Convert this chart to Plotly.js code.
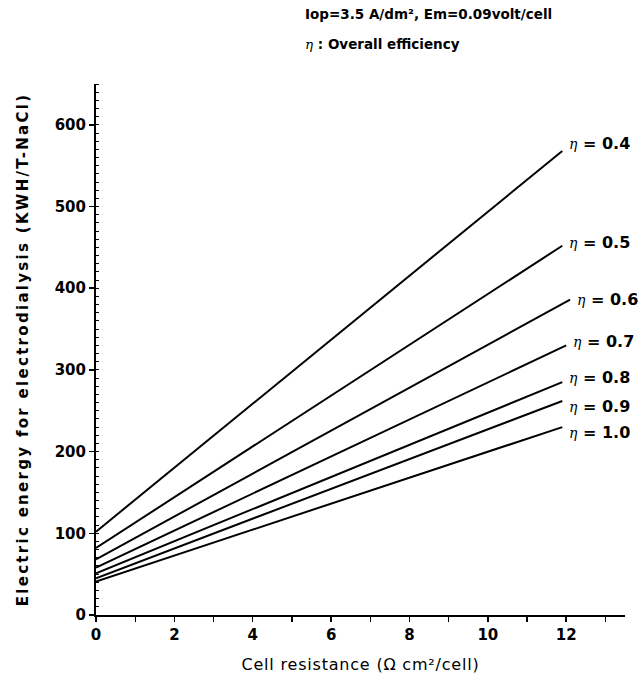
<!DOCTYPE html>
<html>
<head>
<meta charset="utf-8">
<script src="https://cdn.plot.ly/plotly-3.0.1.min.js"></script>
<style>
  html, body { margin: 0; padding: 0; background: #fff; }
  #chart { width: 639px; height: 696px; }
  /* the vertical axis title is set with generous tracking */
  #chart .ytitle { letter-spacing: 2.3px; }
  #chart .xtitle { letter-spacing: 0.8px; }
</style>
</head>
<body>
<div id="chart"></div>
<script>
// Overall efficiency of each line
const efficiency = [0.4, 0.5, 0.6, 0.7, 0.8, 0.9, 1.0];
// Cell resistance (ohm cm2/cell) at both ends of every line
const resistanceStart = [0, 0, 0, 0, 0, 0, 0];
const resistanceEnd = [11.9, 11.9, 12.1, 12.0, 11.9, 11.9, 11.9];
// Electric energy (KWH/T-NaCl) at both ends of every line
const energyStart = [102, 82, 68, 58, 51, 45, 41];
const energyEnd = [568, 452, 386, 330, 285, 262, 230];
// Axis tick labels
const xTicks = [0, 2, 4, 6, 8, 10, 12];
const yTicks = [0, 100, 200, 300, 400, 500, 600];

// Vertical nudges (px) for the efficiency labels where the lines crowd together
const labelShift = [7, 3, 0, 4, 5, -6, -5];

const tickFont = { family: 'DejaVu Sans', size: 15, color: '#000', weight: 'bold' };

const traces = efficiency.map((eta, i) => ({
  type: 'scatter',
  mode: 'lines',
  x: [resistanceStart[i], resistanceEnd[i]],
  y: [energyStart[i], energyEnd[i]],
  line: { color: '#000', width: 2 },
  hoverinfo: 'skip',
  showlegend: false
}));

const etaLabels = efficiency.map((eta, i) => ({
  xref: 'x', yref: 'y',
  x: resistanceEnd[i], y: energyEnd[i],
  xanchor: 'left', yanchor: 'middle',
  xshift: 5, yshift: labelShift[i],
  showarrow: false,
  text: '<span style="font-family:\'DejaVu Serif\';font-weight:normal;font-size:14px"><i>η</i></span> = ' + eta.toFixed(1),
  font: { family: 'DejaVu Sans', size: 16, color: '#000', weight: 'bold' }
}));

const headerLines = [
  { text: 'Iop=3.5 A/dm², Em=0.09volt/cell', y: 1.132 },
  { text: '<span style="font-family:\'DejaVu Serif\';font-weight:normal"><i>η</i></span> : Overall efficiency', y: 1.075 }
].map(h => ({
  xref: 'paper', yref: 'paper',
  x: 0.392, y: h.y,
  xanchor: 'left', yanchor: 'middle',
  showarrow: false,
  text: h.text,
  font: { family: 'DejaVu Sans', size: 13.5, color: '#000', weight: 'bold' }
}));

const layout = {
  width: 639,
  height: 696,
  margin: { l: 96, r: 14, t: 84, b: 81 },
  paper_bgcolor: '#fff',
  plot_bgcolor: '#fff',
  showlegend: false,
  xaxis: {
    range: [0, 13.5],
    tickvals: xTicks,
    ticktext: xTicks.map(String),
    ticks: 'outside',
    ticklen: 5,
    tickwidth: 1.5,
    tickcolor: '#000',
    minor: { dtick: 1, ticks: 'outside', ticklen: 5, tickwidth: 1.2, tickcolor: '#000', showgrid: false },
    showline: true,
    linecolor: '#000',
    linewidth: 1.5,
    showgrid: false,
    zeroline: false,
    tickfont: tickFont,
    title: {
      text: 'Cell resistance (Ω cm²/cell)',
      font: { family: 'DejaVu Sans', size: 16, color: '#000' },
      standoff: 16
    }
  },
  yaxis: {
    range: [0, 650],
    tickvals: yTicks,
    ticktext: yTicks.map(String),
    ticks: 'outside',
    ticklen: 5,
    tickwidth: 1.5,
    tickcolor: '#000',
    minor: { dtick: 10, ticks: 'inside', ticklen: 3, tickwidth: 1, tickcolor: '#000', showgrid: false },
    showline: true,
    linecolor: '#000',
    linewidth: 2,
    showgrid: false,
    zeroline: false,
    tickfont: tickFont,
    title: {
      text: 'Electric energy for electrodialysis (KWH/T-NaCl)',
      font: { family: 'DejaVu Sans', size: 15, color: '#000', weight: 'bold' },
      standoff: 22
    }
  },
  annotations: etaLabels.concat(headerLines)
};

Plotly.newPlot('chart', traces, layout, { staticPlot: true, displayModeBar: false });
</script>
</body>
</html>
